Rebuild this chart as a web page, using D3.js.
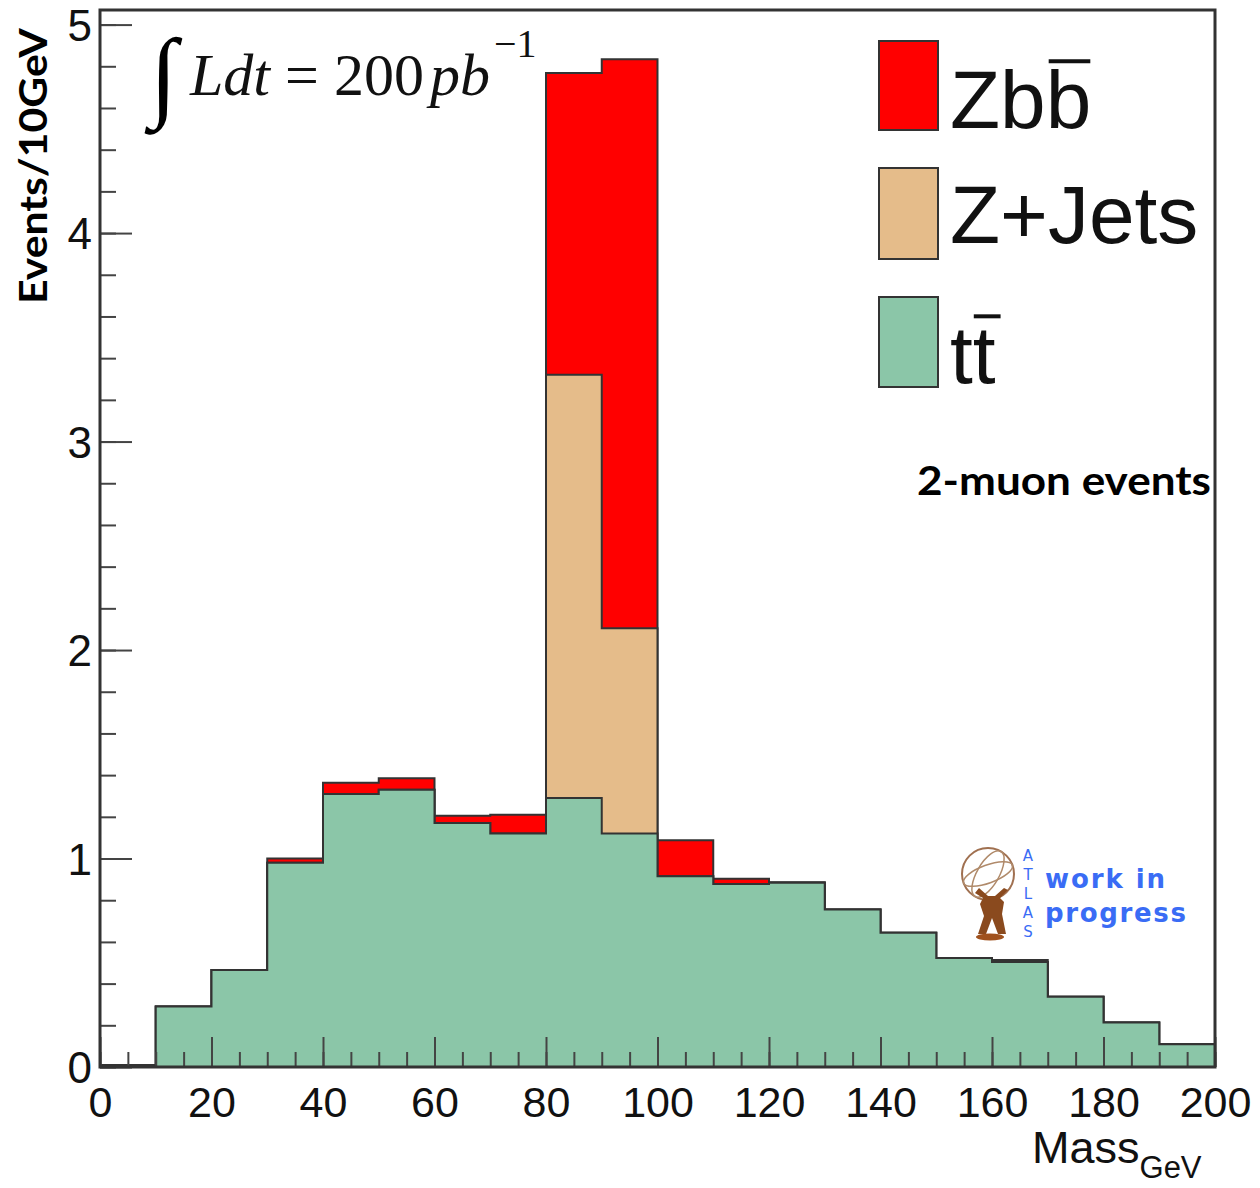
<!DOCTYPE html>
<html><head><meta charset="utf-8">
<script src="https://cdn.jsdelivr.net/npm/d3@7"></script>
<style>body{margin:0;background:#fff}svg{display:block}</style>
</head><body>
<svg id="c" width="1260" height="1188"></svg>
<script>
// ---- data ----
const binLow = [0,10,20,30,40,50,60,70,80,90,100,110,120,130,140,150,160,170,180,190];
const binWidth = 10;
const ttbar = [0.01,0.29,0.465,0.98,1.31,1.33,1.17,1.12,1.29,1.12,0.915,0.878,0.884,0.756,0.644,0.523,0.504,0.337,0.214,0.109];
const zjets = [0,0,0,0,0,0,0,0,2.03,0.985,0,0,0,0,0,0,0,0,0,0];
const zbb   = [0,0,0,0.02,0.054,0.055,0.035,0.09,1.448,2.729,0.173,0.025,0.002,0,0,0,0.009,0,0,0];
const seriesNames = ["tt̄","Z+Jets","Zbb̄"];
const xTicks = [0,20,40,60,80,100,120,140,160,180,200];
const yTicks = [0,1,2,3,4,5];

const svg = d3.select("#c");
const L=100,R=1215,T=10,B=1067;
const x = d3.scaleLinear().domain([0,200]).range([L,R]);
const y = d3.scaleLinear().domain([0,5.07]).range([B,T]);
const colors = {tt:"#8bc6a8", zj:"#e5bc8a", zb:"#ff0000"};
const edge = "#333";

// stacked
const rows = binLow.map((b,i)=>({x:b, tt:ttbar[i], zj:zjets[i], zb:zbb[i]}));
rows.push({x:binLow[binLow.length-1]+binWidth, tt:ttbar[ttbar.length-1], zj:zjets[zjets.length-1], zb:zbb[zbb.length-1]});
const stack = d3.stack().keys(["tt","zj","zb"])(rows);
const cum = {};
stack.forEach(s=>{cum[s.key]=s.map(d=>({x:d.data.x, top:d[1]}));});
const area = d3.area().curve(d3.curveStepAfter).x(d=>x(d.x)).y0(y(0)).y1(d=>y(d.top));
["zb","zj","tt"].forEach(k=>{
  svg.append("path").attr("d",area(cum[k])).attr("fill",colors[k])
    .attr("stroke",edge).attr("stroke-width",2).attr("stroke-linejoin","miter");
});

// axes
const tickStyle = g=>{g.select(".domain").remove();g.selectAll("line").attr("stroke","#444").attr("stroke-width",2);};
svg.append("g").attr("transform",`translate(${L},0)`)
  .call(d3.axisLeft(y).tickValues(d3.range(0,5.01,0.2)).tickSizeInner(-16).tickSizeOuter(0).tickFormat(""))
  .call(tickStyle);
const ya = svg.append("g").attr("transform",`translate(${L},0)`)
  .call(d3.axisLeft(y).tickValues(yTicks).tickSizeInner(-32).tickSizeOuter(0).tickPadding(8).tickFormat(d3.format("d")))
  .call(tickStyle);
ya.selectAll("text").attr("font-family","Liberation Sans, Arial, sans-serif").attr("font-size",44)
  .attr("fill","#111").attr("dy","0.36em");
svg.append("g").attr("transform",`translate(0,${B})`)
  .call(d3.axisBottom(x).tickValues(d3.range(0,201,5)).tickSizeInner(-15).tickSizeOuter(0).tickFormat(""))
  .call(tickStyle);
const xa = svg.append("g").attr("transform",`translate(0,${B})`)
  .call(d3.axisBottom(x).tickValues(xTicks).tickSizeInner(-30).tickSizeOuter(0).tickPadding(0).tickFormat(d3.format("d")))
  .call(tickStyle);
xa.selectAll("text").attr("font-family","Liberation Sans, Arial, sans-serif").attr("font-size",43)
  .attr("fill","#111").attr("dy",null).attr("y",50);

// frame
svg.append("rect").attr("x",L).attr("y",T).attr("width",R-L).attr("height",B-T)
  .attr("fill","none").attr("stroke","#333").attr("stroke-width",3);

// axis titles
svg.append("text").attr("transform","translate(47,166) rotate(-90)").attr("text-anchor","middle")
  .attr("font-family","Lato, 'Open Sans', sans-serif").attr("font-weight","bold").attr("font-size",39)
  .attr("textLength",276).attr("lengthAdjust","spacingAndGlyphs").text("Events/10GeV");
const mt = svg.append("text").attr("x",1032).attr("y",1163)
  .attr("font-family","Liberation Sans, Arial, sans-serif").attr("font-size",45).attr("fill","#111");
mt.append("tspan").text("Mass");
mt.append("tspan").attr("font-size",31).attr("dy",15).text("GeV");

// luminosity
svg.append("text").attr("x",150).attr("y",108).attr("font-family","Liberation Serif, 'Times New Roman', serif")
  .attr("font-size",100).text("∫");
const lt = svg.append("text").attr("x",190).attr("y",95).attr("font-family","Liberation Serif, 'Times New Roman', serif")
  .attr("font-size",60).attr("fill","#111");
lt.append("tspan").attr("font-style","italic").text("Ldt");
lt.append("tspan").text(" = 200");
lt.append("tspan").attr("font-style","italic").attr("dx",6).text("pb");
lt.append("tspan").attr("font-size",40).attr("dy",-38).attr("dx",4).text("−1");

// legend
const legend = [
  {name:seriesNames[2], key:"zb", y0:41, y1:130, base:128},
  {name:seriesNames[1], key:"zj", y0:168, y1:259, base:243},
  {name:seriesNames[0], key:"tt", y0:297, y1:387, base:383}
];
legend.forEach(l=>{
  svg.append("rect").attr("x",879).attr("y",l.y0).attr("width",59).attr("height",l.y1-l.y0)
    .attr("fill",colors[l.key]).attr("stroke",edge).attr("stroke-width",2);
  const plain = l.name.replace("\u0304","");
  const t = svg.append("text").attr("x",950).attr("y",l.base)
    .attr("font-family","Liberation Sans, Arial, sans-serif").attr("font-size",82).attr("fill","#111").text(plain);
  if(l.name.includes("\u0304")){
    const n = plain.length;
    const node = t.node();
    const s = node.getStartPositionOfChar(n-1).x, e = node.getEndPositionOfChar(n-1).x;
    const top = l.base - 82*0.74;
    const narrow = (e-s) < 30;
    svg.append("line").attr("x1",narrow ? s+1 : s+3).attr("x2",narrow ? e+5 : e-1)
      .attr("y1",top-6).attr("y2",top-6)
      .attr("stroke","#111").attr("stroke-width",4);
  }
});

svg.append("text").attr("x",917).attr("y",495).attr("font-family","Lato, 'Open Sans', sans-serif")
  .attr("font-weight","bold").attr("font-size",40).attr("textLength",294).attr("lengthAdjust","spacingAndGlyphs")
  .text("2-muon events");

// ATLAS work in progress badge
const lg = svg.append("g");
lg.append("circle").attr("cx",988).attr("cy",874).attr("r",26).attr("fill","none").attr("stroke","#a07050").attr("stroke-width",2);
lg.append("ellipse").attr("cx",988).attr("cy",874).attr("rx",11).attr("ry",26).attr("fill","none").attr("stroke","#b08a6a").attr("stroke-width",1.5).attr("transform","rotate(30,988,874)");
lg.append("ellipse").attr("cx",988).attr("cy",874).attr("rx",26).attr("ry",9).attr("fill","none").attr("stroke","#b08a6a").attr("stroke-width",1.5).attr("transform","rotate(-20,988,874)");
lg.append("path").attr("d","M975,893 L983,898 L980,904 L984,916 L978,934 L986,934 L992,918 L998,934 L1006,934 L1002,914 L1004,902 L1000,898 L1008,890 L1004,888 L995,896 L988,896 L979,888 Z")
  .attr("fill","#8a4a1e");
lg.append("ellipse").attr("cx",990).attr("cy",937).attr("rx",14).attr("ry",3.5).attr("fill","#a0521e");
["A","T","L","A","S"].forEach((c,i)=>{
  lg.append("text").attr("x",1028).attr("y",861+i*19).attr("text-anchor","middle")
    .attr("font-family","DejaVu Sans, Verdana, sans-serif").attr("font-size",15).attr("fill","#3a6cf5").text(c);
});
lg.append("text").attr("x",1045).attr("y",888).attr("font-family","DejaVu Sans, Verdana, sans-serif")
  .attr("font-weight","bold").attr("font-size",26).attr("fill","#3a6cf5").attr("textLength",120).text("work in");
lg.append("text").attr("x",1045).attr("y",922).attr("font-family","DejaVu Sans, Verdana, sans-serif")
  .attr("font-weight","bold").attr("font-size",26).attr("fill","#3a6cf5").attr("textLength",141).text("progress");
</script>
</body></html>
